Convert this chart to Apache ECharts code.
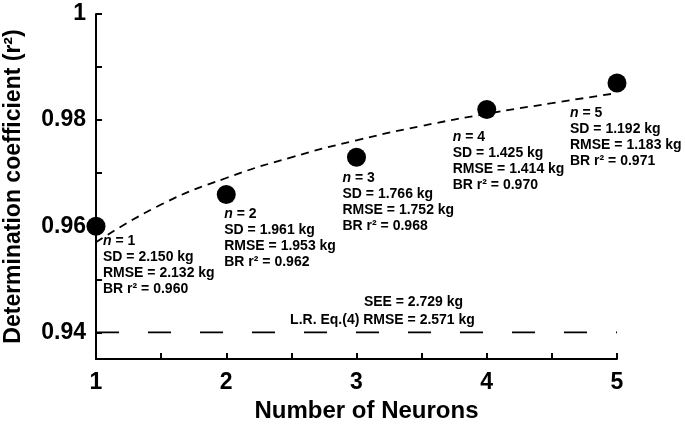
<!DOCTYPE html>
<html>
<head>
<meta charset="utf-8">
<script src="https://cdn.jsdelivr.net/npm/echarts@6/dist/echarts.min.js"></script>
<style>
  html, body { margin: 0; padding: 0; background: #fff; }
  #chart { width: 685px; height: 427px; }
</style>
</head>
<body>
<div id="chart"></div>
<script>
// data
const neurons = [1, 2, 3, 4, 5];
const r2 = [0.960, 0.966, 0.973, 0.982, 0.987];
const sdKg = ['2.150', '1.961', '1.766', '1.425', '1.192'];
const rmseKg = ['2.132', '1.953', '1.752', '1.414', '1.183'];
const brR2 = ['0.960', '0.962', '0.968', '0.970', '0.971'];

// dashed trend curve
const fitX = [1, 1.5, 2, 2.5, 3, 3.5, 4, 4.5, 5];
const fitY = [0.9570, 0.9641, 0.9691, 0.9730, 0.9762, 0.9789, 0.9812, 0.9832, 0.9851];

// linear regression reference
const lrR2 = 0.94;
const lrSee = '2.729';
const lrRmse = '2.571';

const yTicks = [0.94, 0.95, 0.96, 0.97, 0.98, 0.99, 1];
const yLabels = [0.94, 0.96, 0.98, 1];
const xLabels = [1, 2, 3, 4, 5];

const FONT = "'Liberation Sans', Arial, sans-serif";

// where each text block sits relative to its dot
const labelOffsets = [[7, 7], [-2, 12], [-14, 13], [-34, 20], [-47, 22]];

const chart = echarts.init(document.getElementById('chart'));

const option = {
  animation: false,
  grid: { left: 96, right: 68, top: 14, bottom: 68, containLabel: false, outerBoundsMode: 'none' },
  xAxis: {
    type: 'value',
    min: 1,
    max: 5,
    interval: 0.5,
    name: 'Number of Neurons',
    nameLocation: 'middle',
    nameGap: 40,
    nameTextStyle: { fontFamily: FONT, fontWeight: 'bold', fontSize: 24, color: '#000', padding: [0, 0, 0, 20] },
    axisLine: { lineStyle: { color: '#000', width: 2 } },
    axisTick: { inside: true, length: 6, lineStyle: { color: '#000', width: 2 } },
    axisLabel: {
      customValues: xLabels,
      margin: 12,
      fontFamily: FONT, fontWeight: 'bold', fontSize: 23, color: '#000'
    },
    splitLine: { show: false }
  },
  yAxis: {
    type: 'value',
    min: 0.935,
    max: 1,
    name: 'Determination coefficient (r²)',
    nameLocation: 'middle',
    nameGap: 71,
    nameTextStyle: { fontFamily: FONT, fontWeight: 'bold', fontSize: 23, color: '#000' },
    axisLine: { show: true, lineStyle: { color: '#000', width: 2 } },
    axisTick: { show: true, inside: true, length: 6, customValues: yTicks, lineStyle: { color: '#000', width: 2 } },
    axisLabel: {
      customValues: yLabels,
      margin: 10,
      fontFamily: FONT, fontWeight: 'bold', fontSize: 23, color: '#000'
    },
    splitLine: { show: false }
  },
  series: [
    {
      name: 'L.R.',
      type: 'line',
      data: [[1, lrR2], [5, lrR2]],
      symbol: 'none',
      lineStyle: { color: '#000', width: 1.8, type: [23, 29] },
      z: 2
    },
    {
      name: 'trend',
      type: 'line',
      smooth: true,
      data: fitX.map((x, i) => [x, fitY[i]]),
      symbol: 'none',
      lineStyle: { color: '#000', width: 1.8, type: [8, 6] },
      z: 2
    },
    {
      name: 'ANN',
      type: 'scatter',
      symbolSize: 19,
      itemStyle: { color: '#000', opacity: 1 },
      data: neurons.map((n, i) => ({
        value: [n, r2[i]],
        label: { offset: labelOffsets[i] }
      })),
      label: {
        show: true,
        position: 'inside',
        align: 'left',
        verticalAlign: 'top',
        fontFamily: FONT,
        fontWeight: 'bold',
        fontSize: 14,
        lineHeight: 16,
        color: '#000',
        formatter: p => {
          const i = p.dataIndex;
          return '{i|n} = ' + neurons[i] +
            '\nSD = ' + sdKg[i] + ' kg' +
            '\nRMSE = ' + rmseKg[i] + ' kg' +
            '\nBR r² = ' + brR2[i];
        },
        rich: {
          i: { fontFamily: FONT, fontStyle: 'italic', fontWeight: 'bold', fontSize: 14, lineHeight: 16, color: '#000' }
        }
      },
      z: 5
    },
    {
      name: 'L.R. text',
      type: 'scatter',
      symbolSize: 0,
      silent: true,
      itemStyle: { opacity: 1 },
      data: [
        { value: [3, lrR2], label: { formatter: 'SEE = ' + lrSee + ' kg', offset: [57, -30] } },
        { value: [3, lrR2], label: { formatter: 'L.R. Eq.(4) RMSE = ' + lrRmse + ' kg', offset: [26, -12] } }
      ],
      label: {
        show: true,
        position: 'inside',
        align: 'center',
        verticalAlign: 'middle',
        fontFamily: FONT,
        fontWeight: 'bold',
        fontSize: 14,
        color: '#000'
      },
      z: 4
    }
  ]
};

chart.setOption(option);
window.addEventListener('resize', () => chart.resize());
</script>
</body>
</html>
